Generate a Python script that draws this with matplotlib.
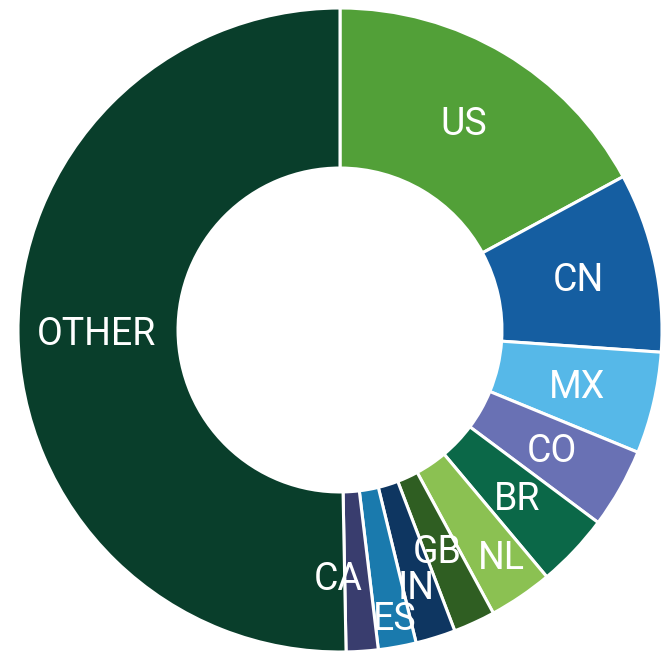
import matplotlib
matplotlib.use("Agg")
import matplotlib.pyplot as plt
import numpy as np

countries = ["US", "CN", "MX", "CO", "BR", "NL", "GB", "IN", "ES", "CA", "OTHER"]
shares = [17.1, 9.0, 5.1, 4.0, 3.7, 3.2, 2.1, 2.0, 1.9, 1.6, 50.3]
colors = ["#52a038", "#155ea1", "#56b8e8", "#6971b4", "#0b6848", "#8bc152",
          "#2f5e22", "#0e3661", "#1a7aad", "#393d6e", "#093e2b"]
# label placement (fraction of outer radius, angle shift in degrees clockwise)
label_r = [0.75, 0.757, 0.755, 0.755, 0.758, 0.864, 0.75, 0.832, 0.91, 0.77, 0.755]
label_shift = [0, 0, 0, 0, 0, -1.2, 0.9, 0.7, -0.5, 4.3, 0]

W, H, DPI = 666, 656, 100
cx, cy, R = 340, 330, 322
fig = plt.figure(figsize=(W / DPI, H / DPI), dpi=DPI)
ax = fig.add_axes([0, 0, 1, 1])
ax.axis("off")

wedges, _ = ax.pie(shares, colors=colors, startangle=90, counterclock=False,
                   radius=1.0, wedgeprops=dict(width=0.497, edgecolor="white", linewidth=2.2))
ax.set_xlim(-cx / R, (W - cx) / R)
ax.set_ylim(-(H - cy) / R, cy / R)
ax.set_aspect("auto")

total = sum(shares)
cum = np.cumsum([0] + shares[:-1])
for name, c, s, rr, sh in zip(countries, cum, shares, label_r, label_shift):
    mid = (c + s / 2) / total * 360 + sh  # clockwise from top
    th = np.deg2rad(90 - mid)
    ax.text(rr * np.cos(th), rr * np.sin(th) - 0.006, name, ha="center", va="center",
            color="white", fontsize=27, family=["Roboto", "DejaVu Sans"])

fig.savefig("out.png", dpi=DPI)
